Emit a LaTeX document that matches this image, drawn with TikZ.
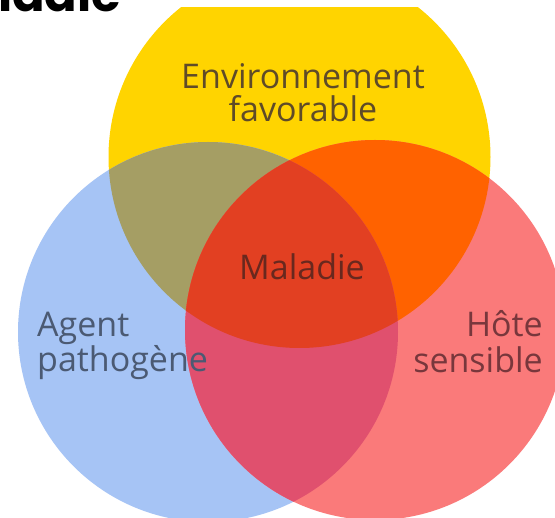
\documentclass[tikz,border=0pt]{standalone}
\usepackage{fontspec}
\setmainfont{Open Sans}
\newfontfamily\titlefont{Poppins}
\definecolor{cyel}{RGB}{255,212,0}
\definecolor{cblu}{RGB}{166,196,245}
\definecolor{cred}{RGB}{250,122,122}
\definecolor{colive}{RGB}{165,158,100}
\definecolor{corange}{RGB}{255,98,0}
\definecolor{cpink}{RGB}{224,80,110}
\definecolor{ccenter}{RGB}{226,64,34}
\definecolor{tyel}{RGB}{95,75,40}
\definecolor{tblu}{RGB}{75,90,115}
\definecolor{tred}{RGB}{120,55,60}
\definecolor{tcen}{RGB}{105,40,30}
\begin{document}
\begin{tikzpicture}[x=1pt,y=-1pt,
  lbl/.style={inner sep=0pt},
  title/.style={inner sep=0pt,font=\titlefont\bfseries\fontsize{48}{48}\selectfont}]
\useasboundingbox (0,0) rectangle (555,518);
\fill[white] (0,0) rectangle (555,518);
\coordinate (cy) at (299.5,157);
\coordinate (cb) at (208,332);
\coordinate (cr) at (375,330);
\def\ry{191}\def\rb{190}\def\rr{190}
\begin{scope}
\clip (0,7.5) rectangle (555,518);
\fill[cyel] (cy) circle[radius=\ry];
\fill[cblu] (cb) circle[radius=\rb];
\fill[cred] (cr) circle[radius=\rr];
\begin{scope}
\clip (cy) circle[radius=\ry];
\fill[colive] (cb) circle[radius=\rb];
\fill[corange] (cr) circle[radius=\rr];
\end{scope}
\begin{scope}
\clip (cb) circle[radius=\rb];
\fill[cpink] (cr) circle[radius=\rr];
\clip (cr) circle[radius=\rr];
\fill[ccenter] (cy) circle[radius=\ry];
\end{scope}
\end{scope}
\begin{scope}
\clip (0,0) rectangle (555,518);
\node[title,anchor=base west] (ttl) at (-2,12) {ladie};
\end{scope}
\node[lbl,text=tyel,anchor=base,align=center,font=\fontsize{34}{33}\selectfont] (env) at (303,122) {Environnement\\favorable};
\node[lbl,text=tcen,anchor=base,font=\fontsize{34}{33}\selectfont] (mal) at (302,280) {Maladie};
\node[lbl,text=tblu,anchor=base west,align=left,font=\fontsize{34}{29}\selectfont] (ag) at (37,372) {Agent\\pathogène};
\node[lbl,text=tred,anchor=base east,align=right,font=\fontsize{34}{36}\selectfont] (ho) at (543,373) {Hôte\\sensible};
\end{tikzpicture}
\end{document}
